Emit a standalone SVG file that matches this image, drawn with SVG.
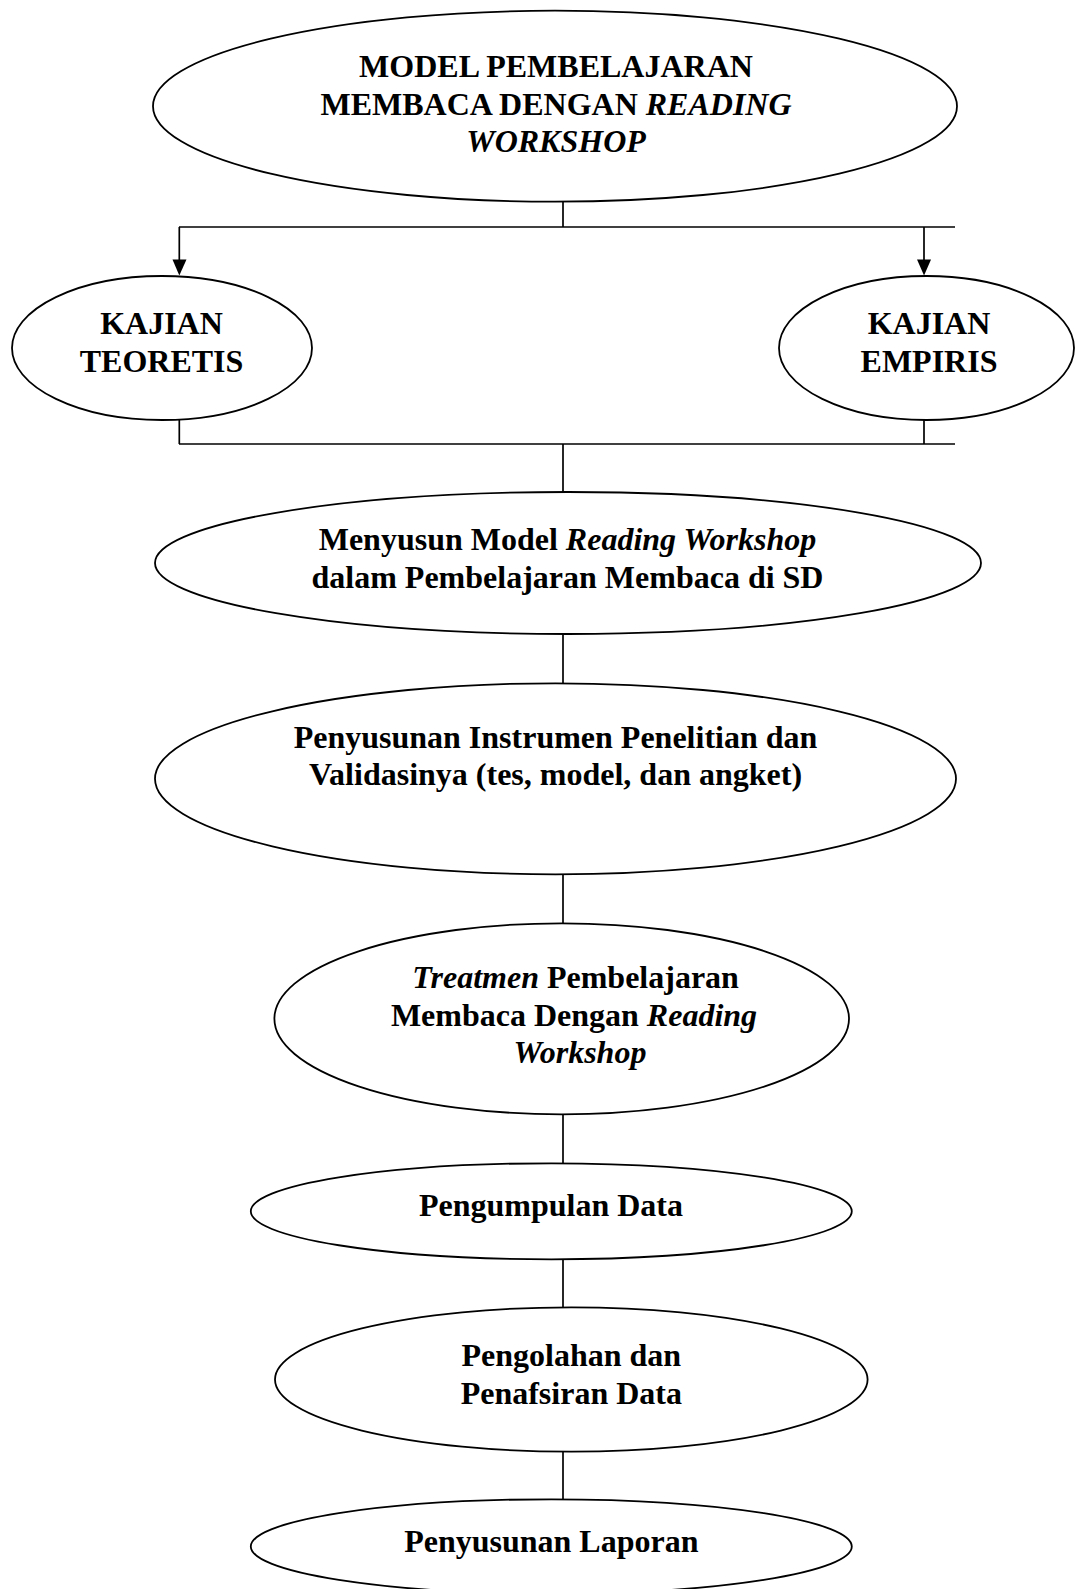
<svg xmlns="http://www.w3.org/2000/svg" width="1075" height="1589" viewBox="0 0 1075 1589">
<style>
.node ellipse{fill:#fff;stroke:#000;stroke-width:1.8}
.node text{font-family:"Liberation Serif","Times New Roman",serif;font-weight:bold;font-size:32px;fill:#000;text-anchor:middle}
.i{font-style:italic}
.conn line,.conn polyline{stroke:#000;stroke-width:1.7;fill:none}
.conn polygon{fill:#000;stroke:none}
</style>
<rect width="1075" height="1589" fill="#fff"/>
<g class="conn" id="connectors">
<line x1="563" y1="201.7" x2="563" y2="227"/>
<line x1="179" y1="227" x2="955" y2="227"/>
<line x1="179.3" y1="227" x2="179.3" y2="262"/>
<polygon points="172.5,259.5 186.5,259.5 179.3,275.5"/>
<line x1="924" y1="227" x2="924" y2="262"/>
<polygon points="917,259.5 931,259.5 924,275.5"/>
<line x1="179.3" y1="420" x2="179.3" y2="444"/>
<line x1="924" y1="420" x2="924" y2="444"/>
<line x1="179" y1="444" x2="955" y2="444"/>
<line x1="563" y1="444" x2="563" y2="492"/>
<line x1="563" y1="634" x2="563" y2="683.3"/>
<line x1="563" y1="874.3" x2="563" y2="923.3"/>
<line x1="563" y1="1114.3" x2="563" y2="1163.3"/>
<line x1="563" y1="1259.3" x2="563" y2="1307.3"/>
<line x1="563" y1="1451.7" x2="563" y2="1499.3"/>
</g>
<g class="node" id="n-model">
<ellipse cx="555" cy="106.2" rx="402" ry="95.5"/>
<text x="556" y="77">MODEL PEMBELAJARAN</text>
<text x="556" y="114.5">MEMBACA DENGAN <tspan class="i">READING</tspan></text>
<text x="556" y="152" class="i">WORKSHOP</text>
</g>
<g class="node" id="n-teoretis">
<ellipse cx="162" cy="348" rx="150" ry="72"/>
<text x="161.5" y="334">KAJIAN</text>
<text x="161.5" y="372">TEORETIS</text>
</g>
<g class="node" id="n-empiris">
<ellipse cx="926.5" cy="348" rx="147.5" ry="72"/>
<text x="929" y="334">KAJIAN</text>
<text x="929" y="372">EMPIRIS</text>
</g>
<g class="node" id="n-menyusun">
<ellipse cx="568" cy="563" rx="413" ry="71"/>
<text x="567.5" y="550">Menyusun Model <tspan class="i">Reading Workshop</tspan></text>
<text x="567.5" y="587.5">dalam Pembelajaran Membaca di SD</text>
</g>
<g class="node" id="n-instrumen">
<ellipse cx="555.5" cy="778.8" rx="400.5" ry="95.5"/>
<text x="555.5" y="747.5">Penyusunan Instrumen Penelitian dan</text>
<text x="555.5" y="785">Validasinya (tes, model, dan angket)</text>
</g>
<g class="node" id="n-treatmen">
<ellipse cx="561.7" cy="1018.8" rx="287.3" ry="95.5"/>
<text x="575.5" y="988"><tspan class="i">Treatmen</tspan> Pembelajaran</text>
<text x="574" y="1025.5">Membaca Dengan <tspan class="i">Reading</tspan></text>
<text x="580" y="1062.5" class="i">Workshop</text>
</g>
<g class="node" id="n-pengumpulan">
<ellipse cx="551.3" cy="1211.3" rx="300.5" ry="48"/>
<text x="551" y="1216">Pengumpulan Data</text>
</g>
<g class="node" id="n-pengolahan">
<ellipse cx="571.3" cy="1379.5" rx="296.3" ry="72.2"/>
<text x="571.3" y="1366">Pengolahan dan</text>
<text x="571.3" y="1404">Penafsiran Data</text>
</g>
<g class="node" id="n-laporan">
<ellipse cx="551.3" cy="1546.5" rx="300.5" ry="47.2"/>
<text x="551.3" y="1551.5">Penyusunan Laporan</text>
</g>
</svg>
